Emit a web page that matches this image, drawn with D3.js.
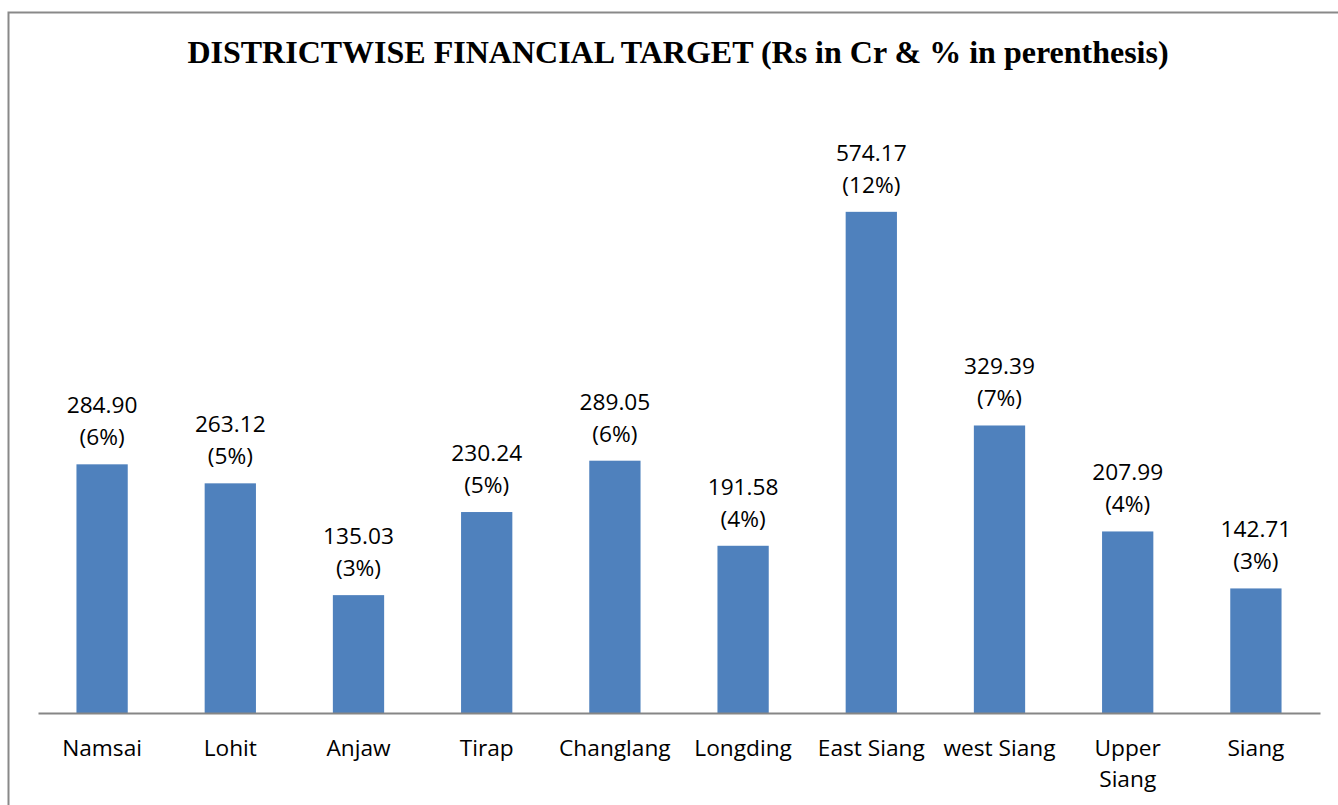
<!DOCTYPE html>
<html>
<head>
<meta charset="utf-8">
<script src="https://cdn.jsdelivr.net/npm/d3@7"></script>
<style>
  body { margin: 0; background: #fff; }
</style>
</head>
<body>
<div id="chart"></div>
<script>
// Data
var districts = ["Namsai", "Lohit", "Anjaw", "Tirap", "Changlang", "Longding", "East Siang", "west Siang", "Upper Siang", "Siang"];
var amounts = [284.90, 263.12, 135.03, 230.24, 289.05, 191.58, 574.17, 329.39, 207.99, 142.71];
var percents = ["(6%)", "(5%)", "(3%)", "(5%)", "(6%)", "(4%)", "(12%)", "(7%)", "(4%)", "(3%)"];

var w = 1338;
var h = 805;

var svg = d3.select("#chart")
    .append("svg")
    .attr("width", w)
    .attr("height", h);

// Ramme rundt om diagrammet
svg.append("rect")
    .attr("x", 8.5)
    .attr("y", 12.5)
    .attr("width", w + 20)
    .attr("height", h + 20)
    .style("fill", "none")
    .style("stroke", "#898989")
    .style("stroke-width", 2);

// Titel
svg.append("text")
    .attr("x", 678)
    .attr("y", 63)
    .attr("text-anchor", "middle")
    .style("font-family", "'Liberation Serif', 'Times New Roman', serif")
    .style("font-weight", "bold")
    .style("font-size", "32px")
    .text("DISTRICTWISE FINANCIAL TARGET (Rs in Cr & % in perenthesis)");

var xScale = d3.scaleBand().domain(districts).range([38, 1320]).paddingInner(0.6).paddingOuter(0.3);
var yScale = d3.scaleLinear().domain([0, 700]).range([713, 102]);

var data = districts.map(function (d, i) { return { name: d, value: amounts[i], pct: percents[i] }; });

// Søjler
svg.append("g")
    .selectAll("rect")
    .data(data)
    .enter()
    .append("rect")
    .attr("x", function (d) { return xScale(d.name); })
    .attr("y", function (d) { return yScale(d.value); })
    .attr("width", xScale.bandwidth())
    .attr("height", function (d) { return yScale(0) - yScale(d.value); })
    .style("fill", "#4f81bd");

// Værdier over søjlerne
var labels = svg.append("g")
    .selectAll("text")
    .data(data)
    .enter()
    .append("text")
    .attr("text-anchor", "middle")
    .style("font-family", "'Open Sans', sans-serif")
    .style("font-size", "22.7px")
    .style("fill", "#000");

labels.append("tspan")
    .attr("x", function (d) { return xScale(d.name) + xScale.bandwidth() / 2; })
    .attr("y", function (d) { return yScale(d.value) - 51; })
    .text(function (d) { return d.value.toFixed(2); });

labels.append("tspan")
    .attr("x", function (d) { return xScale(d.name) + xScale.bandwidth() / 2; })
    .attr("y", function (d) { return yScale(d.value) - 19; })
    .text(function (d) { return d.pct; });

// x-akse
var xAxis = svg.append("g")
    .attr("transform", "translate(0," + yScale(0) + ")")
    .call(d3.axisBottom(xScale).tickSize(0).tickPadding(0));

xAxis.select(".domain")
    .attr("stroke", "#868686")
    .attr("stroke-width", 2);

xAxis.selectAll(".tick text").remove();

// Kategorinavne, "Upper Siang" brydes over to linjer
var cats = svg.append("g")
    .selectAll("text")
    .data(districts)
    .enter()
    .append("text")
    .attr("text-anchor", "middle")
    .style("font-family", "'Open Sans', sans-serif")
    .style("font-size", "22.7px")
    .style("fill", "#000");

cats.each(function (d) {
    var words = d === "Upper Siang" ? ["Upper", "Siang"] : [d];
    var t = d3.select(this);
    words.forEach(function (wd, j) {
        t.append("tspan")
            .attr("x", xScale(d) + xScale.bandwidth() / 2)
            .attr("y", 756 + j * 31)
            .text(wd);
    });
});
</script>
</body>
</html>
